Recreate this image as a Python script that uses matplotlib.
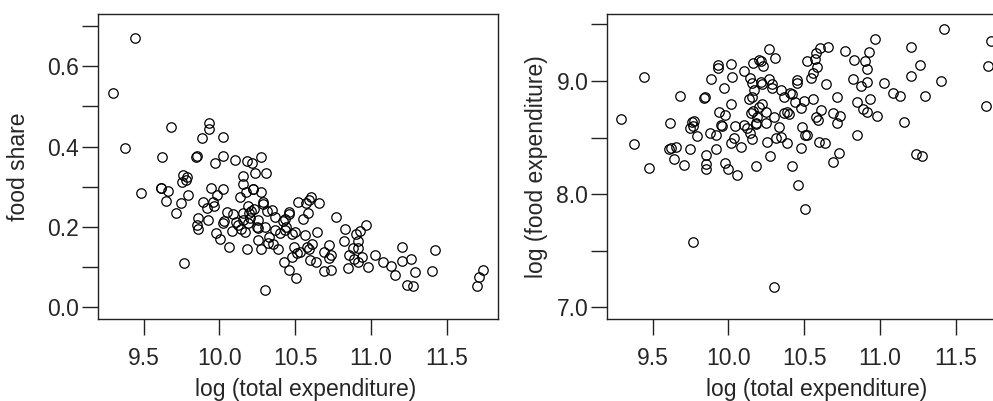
import matplotlib.pyplot as plt
import numpy as np

plt.rcParams['font.family'] = ['Liberation Sans', 'DejaVu Sans']

# Left panel: log total expenditure vs food share
xLeft = [9.446, 9.298, 9.381, 9.683, 9.619, 9.845, 9.850, 9.935, 9.935, 9.885,
         10.021, 10.025, 9.971, 10.105, 10.179, 10.217, 10.274, 10.234, 10.309, 9.760,
         9.753, 9.779, 9.790, 9.485, 9.613, 9.618, 9.663, 9.645, 9.795, 9.749,
         9.711, 9.768, 9.942, 10.023, 9.986, 10.153, 10.159, 10.177, 10.219, 10.225,
         10.276, 10.137, 10.291, 10.286, 9.889, 9.955, 9.964, 9.920, 9.858, 9.854,
         9.856, 9.927, 10.050, 10.087, 10.022, 10.030, 9.979, 10.001, 10.065, 10.085,
         10.111, 10.126, 10.144, 10.155, 10.159, 10.166, 10.186, 10.195, 10.210, 10.203,
         10.228, 10.186, 10.248, 10.254, 10.258, 10.304, 10.258, 10.276, 10.184, 10.311,
         10.302, 10.329, 10.350, 10.368, 10.324, 10.353, 10.386, 10.368, 10.401, 10.420,
         10.430, 10.456, 10.456, 10.441, 10.430, 10.478, 10.500, 10.423, 10.460, 10.505,
         10.482, 10.489, 10.518, 10.551, 10.573, 10.588, 10.603, 10.584, 10.658, 10.566,
         10.610, 10.577, 10.594, 10.515, 10.530, 10.599, 10.636, 10.643, 10.693, 10.724,
         10.735, 10.720, 10.691, 10.735, 10.770, 10.830, 10.825, 10.852, 10.848, 10.880,
         10.917, 10.889, 10.913, 10.911, 10.900, 10.929, 10.940, 10.979, 10.968, 11.023,
         11.082, 11.131, 11.157, 11.203, 11.203, 11.263, 11.293, 11.236, 11.276, 11.421,
         11.403, 11.735, 11.711, 11.698]
foodShare = [0.671, 0.534, 0.396, 0.448, 0.374, 0.374, 0.376, 0.458, 0.444, 0.422,
             0.423, 0.377, 0.360, 0.366, 0.364, 0.358, 0.375, 0.335, 0.333, 0.329,
             0.312, 0.317, 0.323, 0.285, 0.297, 0.298, 0.289, 0.264, 0.279, 0.260,
             0.235, 0.111, 0.298, 0.294, 0.280, 0.327, 0.307, 0.287, 0.294, 0.295,
             0.286, 0.274, 0.263, 0.258, 0.262, 0.261, 0.253, 0.247, 0.222, 0.204,
             0.195, 0.217, 0.238, 0.231, 0.210, 0.214, 0.186, 0.169, 0.151, 0.190,
             0.213, 0.205, 0.196, 0.234, 0.217, 0.188, 0.210, 0.234, 0.240, 0.223,
             0.244, 0.252, 0.200, 0.198, 0.216, 0.199, 0.167, 0.146, 0.144, 0.240,
             0.043, 0.176, 0.242, 0.224, 0.161, 0.157, 0.144, 0.192, 0.184, 0.215,
             0.219, 0.238, 0.231, 0.200, 0.192, 0.182, 0.188, 0.113, 0.093, 0.072,
             0.124, 0.151, 0.263, 0.220, 0.259, 0.267, 0.274, 0.235, 0.260, 0.180,
             0.157, 0.149, 0.144, 0.135, 0.137, 0.118, 0.113, 0.188, 0.138, 0.155,
             0.130, 0.122, 0.090, 0.093, 0.224, 0.195, 0.165, 0.130, 0.099, 0.147,
             0.147, 0.119, 0.113, 0.166, 0.182, 0.190, 0.124, 0.101, 0.205, 0.130,
             0.113, 0.104, 0.080, 0.151, 0.116, 0.120, 0.089, 0.055, 0.053, 0.142,
             0.091, 0.093, 0.076, 0.054]

# Right panel: log total expenditure vs log food expenditure
xRight = [9.441, 9.293, 9.377, 9.678, 9.480, 9.617, 9.612, 9.620, 9.657, 9.643,
          9.705, 9.745, 9.758, 9.774, 9.764, 9.749, 9.793, 9.840, 9.848, 9.883,
          9.932, 9.932, 10.016, 10.022, 9.969, 10.101, 10.020, 9.939, 9.976, 9.951,
          9.957, 9.881, 9.919, 10.045, 10.038, 10.020, 9.921, 10.084, 9.855, 9.853,
          9.855, 9.980, 10.000, 10.060, 10.179, 9.764, 10.164, 10.200, 10.146, 10.157,
          10.168, 10.137, 10.150, 10.165, 10.101, 10.124, 10.141, 10.157, 10.183, 11.423,
          11.732, 11.712, 11.701, 10.970, 11.203, 11.263, 11.203, 11.403, 11.296, 11.084,
          11.131, 11.157, 11.236, 11.278, 11.023, 10.978, 10.934, 10.917, 10.877, 10.912,
          10.899, 10.928, 10.829, 10.772, 10.825, 10.851, 10.888, 10.912, 10.846, 10.659,
          10.602, 10.580, 10.571, 10.587, 10.558, 10.542, 10.520, 10.643, 10.719, 10.692,
          10.736, 10.719, 10.608, 10.575, 10.591, 10.561, 10.498, 10.476, 10.454, 10.454,
          10.405, 10.420, 10.439, 10.366, 10.344, 10.285, 10.289, 10.271, 10.212, 10.223,
          10.271, 10.306, 10.230, 10.218, 10.370, 10.385, 10.399, 10.300, 10.251, 10.245,
          10.190, 10.201, 10.223, 10.179, 10.157, 10.333, 10.311, 10.349, 10.256, 10.384,
          10.487, 10.505, 10.520, 10.597, 10.635, 10.481, 10.729, 10.692, 10.273, 10.421,
          10.458, 10.503, 10.300]
logFood = [9.033, 8.662, 8.444, 8.868, 8.228, 8.627, 8.397, 8.410, 8.415, 8.312,
           8.259, 8.397, 8.635, 8.644, 8.605, 8.582, 8.515, 8.852, 8.860, 9.015,
           9.141, 9.112, 9.150, 9.038, 8.935, 9.091, 8.794, 8.724, 8.703, 8.612,
           8.598, 8.538, 8.520, 8.605, 8.494, 8.450, 8.397, 8.420, 8.347, 8.268,
           8.226, 8.279, 8.221, 8.170, 8.244, 7.576, 9.162, 9.185, 9.024, 8.979,
           8.921, 8.838, 8.720, 8.735, 8.612, 8.582, 8.544, 8.485, 8.620, 9.459,
           9.353, 9.132, 8.782, 9.373, 9.303, 9.141, 9.044, 9.000, 8.870, 8.897,
           8.868, 8.641, 8.353, 8.338, 8.979, 8.691, 8.841, 8.988, 8.956, 9.103,
           9.177, 9.253, 9.185, 9.268, 9.015, 8.817, 8.753, 8.729, 8.523, 9.303,
           9.294, 9.244, 9.191, 9.126, 9.068, 9.024, 9.179, 8.971, 8.856, 8.715,
           8.691, 8.627, 8.744, 8.685, 8.656, 8.841, 8.826, 8.764, 9.009, 8.985,
           8.893, 8.885, 8.812, 8.862, 8.921, 8.935, 8.974, 9.018, 8.990, 8.970,
           9.280, 9.200, 9.132, 9.179, 8.720, 8.722, 8.709, 8.685, 8.729, 8.627,
           8.685, 8.773, 8.797, 8.627, 8.856, 8.597, 8.494, 8.503, 8.459, 8.450,
           8.597, 8.520, 8.525, 8.459, 8.450, 8.411, 8.362, 8.282, 8.341, 8.250,
           8.082, 7.870, 7.179]

xTicks = [9.5, 10.0, 10.5, 11.0, 11.5]
xLabels = ['9.5', '10.0', '10.5', '11.0', '11.5']
leftTicks = [0.0, 0.1, 0.2, 0.3, 0.4, 0.5, 0.6, 0.7]
leftLabels = ['0.0', '', '0.2', '', '0.4', '', '0.6', '']
rightTicks = [7.0, 7.5, 8.0, 8.5, 9.0, 9.5]
rightLabels = ['7.0', '', '8.0', '', '9.0', '']

textColor = '#262626'
fontSize = 16.5

fig = plt.figure(figsize=(9.93, 4.01), dpi=100)
W, H = 993.0, 401.0

# axes placed in pixels, the right one runs past the figure edge
axLeft = fig.add_axes([98 / W, (H - 319) / H, 400 / W, 305 / H])
axRight = fig.add_axes([607 / W, (H - 319) / H, 400 / W, 305 / H])

def style(ax):
    for s in ax.spines.values():
        s.set_linewidth(1.0)
        s.set_color('#222222')
    ax.tick_params(direction='out', length=11.5, width=1.0, color='#222222',
                   labelsize=fontSize, labelcolor=textColor)
    ax.tick_params(axis='x', pad=9)
    ax.tick_params(axis='y', pad=2)
    ax.set_xticks(xTicks)
    ax.set_xticklabels(xLabels)
    ax.set_xlim(9.20, 11.837)

axLeft.plot(xLeft, foodShare, 'o', mfc='none', mec='black', ms=6.8, mew=0.9)
style(axLeft)
axLeft.set_ylim(-0.029, 0.7296)
axLeft.set_yticks(leftTicks)
axLeft.set_yticklabels(leftLabels)
axLeft.set_xlabel('log (total expenditure)', fontsize=fontSize, color=textColor)
axLeft.set_ylabel('food share', fontsize=fontSize, color=textColor)
axLeft.xaxis.set_label_coords(0.52, -0.23)
axLeft.yaxis.set_label_coords(-0.198, 0.5)

axRight.plot(xRight, logFood, 'o', mfc='none', mec='black', ms=6.8, mew=0.9)
style(axRight)
axRight.set_ylim(6.897, 9.591)
axRight.set_yticks(rightTicks)
axRight.set_yticklabels(rightLabels)
axRight.set_xlabel('log (total expenditure)', fontsize=fontSize, color=textColor)
axRight.set_ylabel('log (food expenditure)', fontsize=fontSize, color=textColor)
axRight.xaxis.set_label_coords(0.525, -0.23)
axRight.yaxis.set_label_coords(-0.175, 0.5)

for lab in [axLeft.xaxis.label, axRight.xaxis.label]:
    lab.set_va('center')
for lab in [axLeft.yaxis.label, axRight.yaxis.label]:
    lab.set_va('center')

plt.savefig('out.png', dpi=100)
